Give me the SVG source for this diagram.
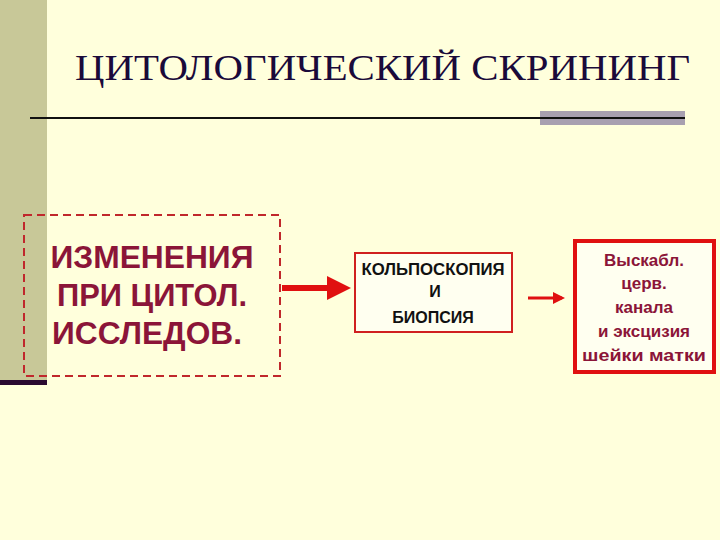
<svg xmlns="http://www.w3.org/2000/svg" width="720" height="540" viewBox="0 0 720 540">
<style>
.m{font-family:"Liberation Sans",Arial,sans-serif;font-weight:bold;fill:#8b1538;text-anchor:middle}
.k{font-family:"Liberation Sans",Arial,sans-serif;font-weight:bold;fill:#111;text-anchor:middle;font-size:16px}
</style>
<defs>
<marker id="a" markerWidth="4" markerHeight="4" refX="3" refY="2" orient="auto" markerUnits="strokeWidth"><path d="M0,0L4,2L0,4z" fill="#e01010"/></marker>
</defs>
<rect width="720" height="540" fill="#ffffdc"/>
<rect x="0" y="0" width="47" height="382" fill="#c8c898"/>
<rect x="0" y="380" width="47" height="5" fill="#2a0a30"/>
<rect x="540" y="111" width="145" height="14" fill="#a8a0b0"/>
<line x1="30" y1="118" x2="685" y2="118" stroke="#111" stroke-width="2"/>
<text x="75" y="80" font-family="Liberation Serif,Times New Roman,serif" font-size="36" fill="#1a0a3a" textLength="615" lengthAdjust="spacingAndGlyphs">ЦИТОЛОГИЧЕСКИЙ СКРИНИНГ</text>
<g id="n1">
<rect x="24" y="215" width="256" height="161" fill="none" stroke="#c0282c" stroke-width="2" stroke-dasharray="8,5"/>
<text class="m" font-size="31" x="152" y="268" textLength="203" lengthAdjust="spacingAndGlyphs">ИЗМЕНЕНИЯ</text>
<text class="m" font-size="31" x="152" y="306" textLength="190" lengthAdjust="spacingAndGlyphs">ПРИ ЦИТОЛ.</text>
<text class="m" font-size="31" x="147" y="344" textLength="190" lengthAdjust="spacingAndGlyphs">ИССЛЕДОВ.</text>
</g>
<g id="n2">
<rect x="355" y="253" width="157" height="79" fill="#fffff0" stroke="#d02020" stroke-width="2"/>
<text class="k" x="433" y="275" textLength="143" lengthAdjust="spacingAndGlyphs">КОЛЬПОСКОПИЯ</text>
<text class="k" x="435" y="297" font-size="13">И</text>
<text class="k" x="433" y="323">БИОПСИЯ</text>
</g>
<g id="n3">
<rect x="575" y="241" width="139" height="131" fill="#fffff0" stroke="#e01010" stroke-width="4"/>
<g class="m" font-size="17">
<text x="644" y="266">Выскабл.</text>
<text x="644" y="289">церв.</text>
<text x="644" y="313">канала</text>
<text x="644" y="337">и эксцизия</text>
<text x="644" y="361" textLength="124" lengthAdjust="spacingAndGlyphs">шейки матки</text>
</g>
</g>
<g id="connectors">
<line x1="282" y1="288" x2="345" y2="288" stroke="#e01010" stroke-width="6" marker-end="url(#a)"/>
<line x1="528" y1="298" x2="562" y2="298" stroke="#e01010" stroke-width="3" marker-end="url(#a)"/>
</g>
</svg>
